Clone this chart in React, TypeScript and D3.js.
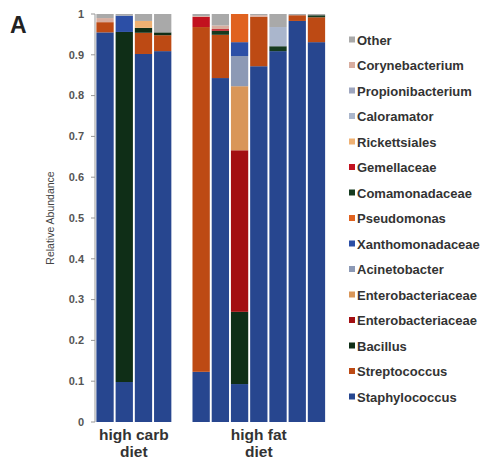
import React from "react";
import * as d3 from "d3";

// samples: 4 high carb, 7 high fat (a "gap" slot separates the two groups)
const samples = ["hc1", "hc2", "hc3", "hc4", "gap", "hf1", "hf2", "hf3", "hf4", "hf5", "hf6", "hf7"];
const groups = [
  { name: "high carb", line2: "diet", ids: ["hc1", "hc4"] },
  { name: "high fat", line2: "diet", ids: ["hf1", "hf7"] },
];

// taxa listed bottom-to-top of the stack
const taxa = [
  "Staphylococcus", "Streptococcus", "Bacillus", "Enterobacteriaceae", "Enterobacteriaceae ",
  "Acinetobacter", "Xanthomonadaceae", "Pseudomonas", "Comamonadaceae", "Gemellaceae",
  "Rickettsiales", "Caloramator", "Propionibacterium", "Corynebacterium", "Other",
];
const taxaColors = [
  "#27468f", "#bd4a14", "#0f2e17", "#a30f12", "#d99659",
  "#8c99b5", "#2c4fa6", "#e0621f", "#163a1f", "#c2121f",
  "#efb173", "#aab6cc", "#9ea6bf", "#d8ad9f", "#a9a9a9",
];

// relative abundances per taxon, one value per sample (gap excluded)
const staph = [0.955, 0.098, 0.902, 0.909, 0.123, 0.843, 0.093, 0.872, 0.909, 0.983, 0.931];
const strep = [0.025, 0, 0.052, 0.039, 0.845, 0.106, 0, 0.121, 0, 0.014, 0.061];
const bacillus = [0, 0.858, 0.012, 0.007, 0, 0, 0.177, 0, 0, 0, 0];
const enteroRed = [0, 0, 0, 0, 0, 0, 0.396, 0, 0, 0, 0];
const enteroTan = [0, 0, 0, 0, 0, 0, 0.157, 0, 0, 0, 0];
const acineto = [0, 0, 0, 0, 0, 0, 0.074, 0, 0, 0, 0];
const xantho = [0, 0.04, 0, 0, 0, 0, 0.034, 0, 0, 0, 0];
const pseudo = [0, 0, 0, 0, 0, 0, 0.069, 0, 0, 0, 0];
const comamo = [0, 0, 0, 0, 0, 0.01, 0, 0, 0.012, 0, 0.005];
const gemella = [0, 0, 0, 0, 0.025, 0.004, 0, 0, 0, 0, 0];
const ricket = [0, 0, 0.017, 0, 0, 0, 0, 0, 0, 0, 0];
const calora = [0, 0, 0, 0, 0, 0, 0, 0, 0.047, 0, 0];
const propion = [0, 0, 0, 0, 0, 0, 0, 0, 0, 0, 0];
const coryne = [0.01, 0, 0, 0, 0.002, 0.009, 0, 0.004, 0, 0, 0];
const other = [0.01, 0.004, 0.017, 0.045, 0.005, 0.028, 0, 0.003, 0.032, 0.003, 0.003];

const seriesValues = [
  staph, strep, bacillus, enteroRed, enteroTan, acineto, xantho, pseudo,
  comamo, gemella, ricket, calora, propion, coryne, other,
];

const yTicks = [0, 0.1, 0.2, 0.3, 0.4, 0.5, 0.6, 0.7, 0.8, 0.9, 1];

const W = 487;
const H = 464;
const font = "'Liberation Sans', Arial, sans-serif";

export default function App() {
  const realSamples = samples.filter((s) => s !== "gap");
  const rows = realSamples.map((id, i) => {
    const row: Record<string, any> = { id };
    taxa.forEach((t, k) => (row[t] = seriesValues[k][i]));
    return row;
  });

  const stack = d3.stack<any>().keys(taxa);
  const layers = stack(rows);

  const x = d3.scaleBand().domain(samples).range([96, 325.5]).paddingInner(0.1).paddingOuter(0.02);
  const y = d3.scaleLinear().domain([0, 1]).range([422, 14]);

  const legend = d3.scalePoint().domain(d3.range(taxa.length).map(String)).range([397, 40]);

  return (
    <svg width={W} height={H} style={{ position: "absolute", left: 0, top: 0, background: "#fff" }}>
      <text x={10} y={33} fontFamily={font} fontWeight="bold" fontSize={23} fill="#222">A</text>

      {/* stacked bars */}
      {layers.map((layer, k) => (
        <g key={k} fill={taxaColors[k]}>
          {layer.map((d, i) =>
            d[1] - d[0] > 0 ? (
              <rect
                key={i}
                x={x(d.data.id)}
                width={x.bandwidth()}
                y={y(d[1])}
                height={y(d[0]) - y(d[1])}
              />
            ) : null
          )}
        </g>
      ))}

      {/* y axis */}
      <line x1={95} x2={95} y1={y(1)} y2={y(0)} stroke="#999" strokeWidth={1} />
      {yTicks.map((t) => (
        <g key={t}>
          <line x1={91} x2={95} y1={y(t)} y2={y(t)} stroke="#999" />
          <text
            x={84}
            y={y(t)}
            dy="0.35em"
            textAnchor="end"
            fontFamily={font}
            fontWeight="bold"
            fontSize={11}
            fill="#555"
          >
            {t}
          </text>
        </g>
      ))}
      <text
        transform={`translate(54,${y(0.5)}) rotate(-90)`}
        textAnchor="middle"
        fontFamily={font}
        fontSize={10.5}
        fill="#444"
      >
        Relative Abundance
      </text>

      {/* group labels */}
      {groups.map((g) => {
        const cx = ((x(g.ids[0]) as number) + (x(g.ids[1]) as number) + x.bandwidth()) / 2;
        return (
          <g key={g.name} fontFamily={font} fontWeight="bold" fontSize={15.5} fill="#333" textAnchor="middle">
            <text x={cx} y={440}>{g.name}</text>
            <text x={cx} y={457}>{g.line2}</text>
          </g>
        );
      })}

      {/* legend */}
      {taxa.map((t, k) => {
        const ly = legend(String(k)) as number;
        return (
          <g key={k}>
            <rect x={349} y={ly - 3.5} width={6} height={6} fill={taxaColors[k]} />
            <text x={357} y={ly} dy="0.35em" fontFamily={font} fontWeight="bold" fontSize={13} fill="#333">
              {t.trim()}
            </text>
          </g>
        );
      })}
    </svg>
  );
}
